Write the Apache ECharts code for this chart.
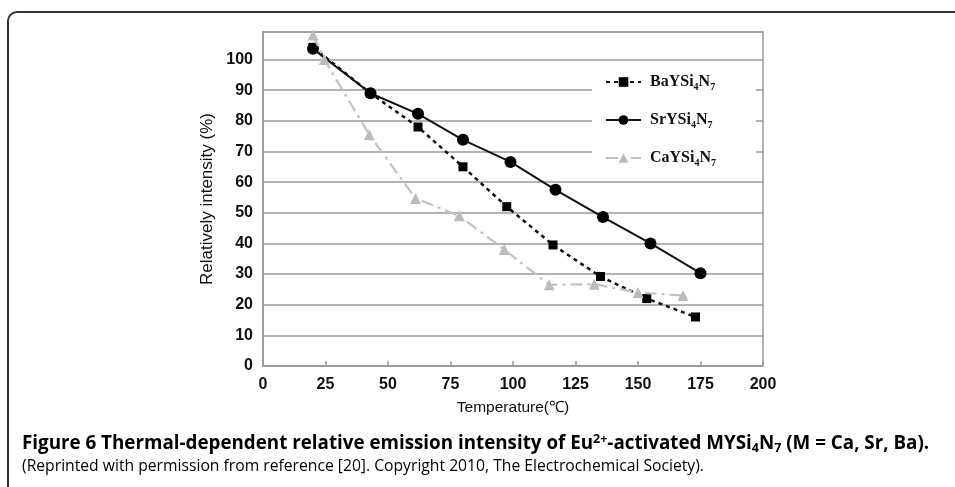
<!DOCTYPE html>
<html>
<head>
<meta charset="utf-8">
<script src="https://cdn.jsdelivr.net/npm/echarts@6/dist/echarts.min.js"></script>
<style>
html,body{margin:0;padding:0;background:#fff;}
#chart{width:955px;height:487px;}
</style>
</head>
<body>
<div id="chart"></div>
<script>
// ---- Data ----
var seriesNames = ['BaYSi4N7', 'SrYSi4N7', 'CaYSi4N7'];
var baTemp  = [20, 43, 62, 80, 97.5, 116, 135, 153.5, 173];
var baValue = [104, 89, 78, 65, 52, 39.5, 29.2, 22, 16];
var srTemp  = [20, 43, 62, 80, 99, 117, 136, 155, 175];
var srValue = [103.5, 89, 82.3, 73.8, 66.6, 57.5, 48.6, 40, 30.3];
var caTemp  = [20, 24.5, 42.5, 61, 78.5, 96.5, 114.5, 132.5, 150, 168];
var caValue = [108, 100, 75.5, 54.7, 49, 38, 26.5, 26.7, 24, 23];
var xTicks = [0, 25, 50, 75, 100, 125, 150, 175, 200];
var yTicks = [0, 10, 20, 30, 40, 50, 60, 70, 80, 90, 100];

function pairs(xs, ys) { return xs.map(function (x, i) { return [x, ys[i]]; }); }

var chart = echarts.init(document.getElementById('chart'), null, {renderer: 'canvas'});
var legendRich = {
  a: {fontFamily: 'Liberation Serif', fontWeight: 'bold', fontSize: 16, color: '#111', lineHeight: 20},
  s: {fontFamily: 'Liberation Serif', fontWeight: 'bold', fontSize: 10, color: '#111', verticalAlign: 'bottom', padding: [8, 0, 0, 0], lineHeight: 20}
};
var capRich = {
  b: {fontFamily: 'Open Sans', fontWeight: 'bold', fontSize: 18.8, color: '#231f20', lineHeight: 24},
  sup: {fontFamily: 'Open Sans', fontWeight: 'bold', fontSize: 12.5, color: '#231f20', lineHeight: 24, padding: [0, 0, 9, 0]},
  sub: {fontFamily: 'Open Sans', fontWeight: 'bold', fontSize: 12.5, color: '#231f20', lineHeight: 24, padding: [8, 0, 0, 0]},
  n: {fontFamily: 'Open Sans', fontSize: 15.7, color: '#3a3a3a', lineHeight: 20}
};

var option = {
  animation: false,
  backgroundColor: '#fff',
  grid: {left: 263, right: 192, top: 32, bottom: 121, show: true, borderColor: '#9a9a9a', borderWidth: 1.5, backgroundColor: 'transparent'},
  legend: {
    orient: 'vertical', left: 592, top: 63,
    backgroundColor: '#fff',
    padding: [11, 40, 7, 13],
    itemGap: 20, itemWidth: 35, itemHeight: 12,
    data: seriesNames,
    formatter: function (name) {
      return '{a|' + name.slice(0, 5) + '}{s|4}{a|N}{s|7}';
    },
    textStyle: {rich: legendRich, padding: [0, 0, 0, 4]}
  },
  xAxis: {
    type: 'value', min: 0, max: 200, interval: 25,
    name: 'Temperature(\u2103)', nameLocation: 'middle', nameGap: 34,
    nameTextStyle: {fontFamily: 'Liberation Sans', fontSize: 15.5, color: '#111'},
    axisLine: {show: true, lineStyle: {color: '#9a9a9a', width: 1.5}},
    axisTick: {show: true, inside: true, length: 5, lineStyle: {color: '#9a9a9a', width: 1.5}},
    axisLabel: {margin: 11, fontFamily: 'Liberation Sans', fontWeight: 'bold', fontSize: 16, color: '#111',
      customValues: xTicks},
    splitLine: {show: false}
  },
  yAxis: {
    type: 'value', min: 0, max: 109, interval: 10,
    name: 'Relatively intensity (%)', nameLocation: 'middle', nameGap: 40,
    nameTextStyle: {fontFamily: 'Liberation Sans', fontSize: 17, color: '#111'},
    axisLine: {show: true, lineStyle: {color: '#9a9a9a', width: 1.5}},
    axisTick: {show: false},
    axisLabel: {margin: 10, fontFamily: 'Liberation Sans', fontWeight: 'bold', fontSize: 16, color: '#111',
      formatter: function (v) { return yTicks.indexOf(v) >= 0 ? String(v) : ''; }},
    splitLine: {show: true, lineStyle: {color: '#9a9a9a', width: 1.5}}
  },
  series: [
    {
      name: seriesNames[0], type: 'line', data: pairs(baTemp, baValue), z: 2,
      symbol: 'rect', symbolSize: 9,
      itemStyle: {color: '#000'},
      lineStyle: {color: '#111', width: 2.5, type: [4, 4]}
    },
    {
      name: seriesNames[1], type: 'line', data: pairs(srTemp, srValue), z: 3,
      symbol: 'circle', symbolSize: 12,
      itemStyle: {color: '#000'},
      lineStyle: {color: '#111', width: 2, type: 'solid'}
    },
    {
      name: seriesNames[2], type: 'line', data: pairs(caTemp, caValue), z: 4,
      symbol: 'triangle', symbolSize: 11,
      itemStyle: {color: '#bcbcbc'},
      lineStyle: {color: '#c2c2c2', width: 2.2, type: [12, 5, 3, 5]}
    }
  ],
  graphic: [
    {type: 'rect', shape: {x: 8, y: 12, width: 1000, height: 600, r: 9},
      style: {fill: 'none', stroke: '#333', lineWidth: 2}, silent: true, z: 0},
    {type: 'text', left: 22, top: 433,
      style: {text: '{b|Figure 6 Thermal-dependent relative emission intensity of Eu}{sup|2+}{b|-activated MYSi}{sub|4}{b|N}{sub|7}{b| (M = Ca, Sr, Ba).}',
        rich: capRich}},
    {type: 'text', left: 22, top: 459,
      style: {text: '{n|(Reprinted with permission from reference [20]. Copyright 2010, The Electrochemical Society).}',
        rich: capRich}}
  ]
};
chart.setOption(option);
</script>
</body>
</html>
